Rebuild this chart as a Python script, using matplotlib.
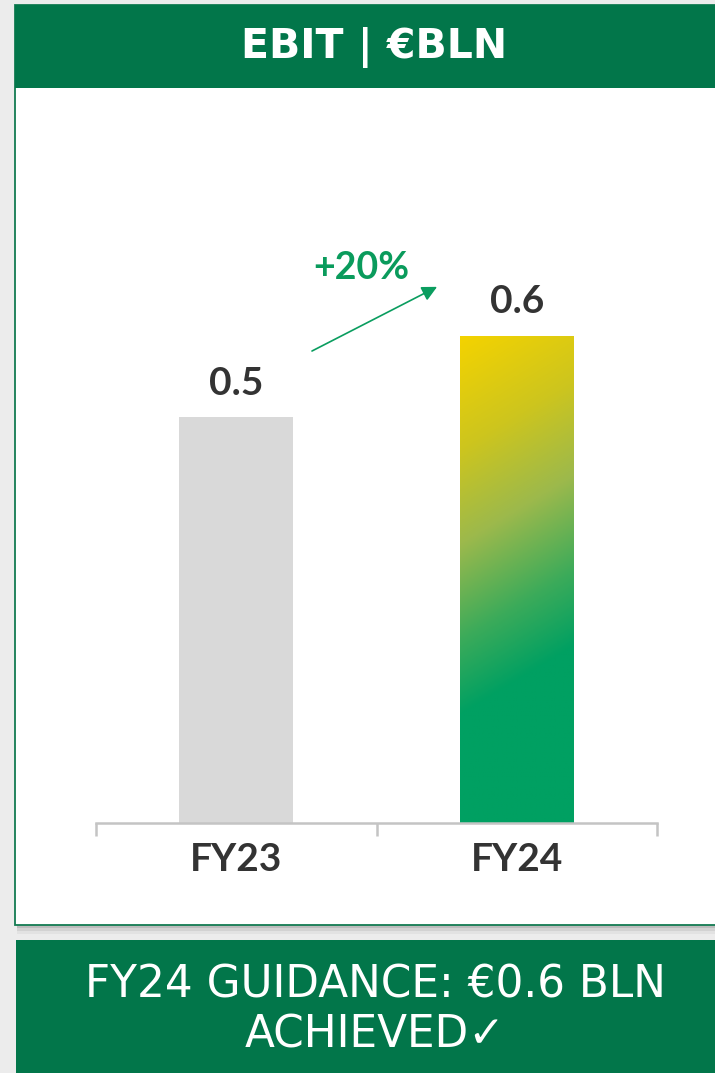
import numpy as np
import matplotlib
matplotlib.use("Agg")
from matplotlib import pyplot as plt
from matplotlib.patches import Rectangle
from matplotlib.colors import LinearSegmentedColormap

# EBIT, bln EUR
years = ["FY23", "FY24"]
ebit = [0.5, 0.6]
title = "EBIT | €BLN"
footer = ["FY24 GUIDANCE: €0.6 BLN", "ACHIEVED✓"]

W, H = 715, 1073
DARK_GREEN = "#02764a"
TEXT = "#333333"
NUM_FONT = ["Lato", "DejaVu Sans"]
CAPS_FONT = ["DejaVu Sans"]

plt.rcParams["font.family"] = NUM_FONT


def fx(px):
    return px / W


def fy(py):
    return 1 - py / H


fig = plt.figure(figsize=(W / 100, H / 100), dpi=100, facecolor="#ececec")

# card shadow + card + header band (kept behind the axes)
for i, a in enumerate([0.10, 0.07, 0.04]):
    fig.add_artist(Rectangle((fx(17), fy(928 + 3 * i)), 1, fy(10) - fy(928 + 3 * i),
                             transform=fig.transFigure, fc="black", ec="none",
                             alpha=a, zorder=-5))
fig.add_artist(Rectangle((fx(15), fy(925)), 1, fy(5) - fy(925),
                         transform=fig.transFigure, fc="white", ec="#137b52",
                         lw=1.3, zorder=-4))
fig.add_artist(Rectangle((fx(15), fy(88)), 1, fy(5) - fy(88),
                         transform=fig.transFigure, fc=DARK_GREEN, ec="none", zorder=-3))
fig.text(fx(374), fy(48), title, ha="center", va="center", color="white",
         fontsize=29.5, fontweight="bold", family=CAPS_FONT)

# footer box
fig.add_artist(Rectangle((fx(16), 0), 1, fy(940),
                         transform=fig.transFigure, fc=DARK_GREEN, ec="none", zorder=-3))
fig.text(fx(375), fy(985), footer[0], ha="center", va="center", color="white",
         fontsize=31.5, fontweight="medium", family=CAPS_FONT)
fig.text(fx(375), fy(1035), footer[1], ha="center", va="center", color="white",
         fontsize=31.5, fontweight="medium", family=CAPS_FONT)

# bar chart
ax = fig.add_axes([fx(96), fy(823), fx(657) - fx(96), fy(100) - fy(823)])
ax.set_zorder(5)
ax.patch.set_visible(False)
x = np.arange(len(years))
bw = 0.406
bars = ax.bar(x, ebit, width=bw, color=["#d9d9d9", "none"], zorder=2)
ax.set_xlim(-0.5, len(years) - 0.5)
ax.set_ylim(0, 0.89)

for s in ["top", "right", "left"]:
    ax.spines[s].set_visible(False)
ax.spines["bottom"].set_color("#c4c4c4")
ax.spines["bottom"].set_linewidth(1.8)
ax.set_yticks([])
ax.set_xticks(x, years, fontsize=28, fontweight="bold", color=TEXT)
ax.tick_params(axis="x", which="major", length=0, pad=14)
ax.set_xticks(np.arange(len(years) + 1) - 0.5, minor=True)
ax.tick_params(axis="x", which="minor", length=9, width=1.8, color="#c4c4c4")

# yellow -> green diagonal fill for the latest year
cmap = LinearSegmentedColormap.from_list(
    "ebit", [(0, "#f4d300"), (0.3, "#cdc51e"), (0.55, "#9cb94c"),
             (0.8, "#3cab5a"), (1, "#00a062")])
b = bars[1]
fig.canvas.draw()
bb = b.get_window_extent()
wp, hp = bb.width, bb.height
gx, gy = np.meshgrid(np.linspace(0, wp, 120), np.linspace(0, hp, 400))
t = np.clip((0.6 * gx + gy) / 380, 0, 1)
im = ax.imshow(t, cmap=cmap, vmin=0, vmax=1, aspect="auto", origin="upper",
               extent=[b.get_x(), b.get_x() + bw, 0, ebit[1]], zorder=2,
               interpolation="bilinear")
im.set_clip_path(b)
ax.set_xlim(-0.5, len(years) - 0.5)
ax.set_ylim(0, 0.89)

for xi, v in zip(x, ebit):
    ax.annotate(f"{v:.1f}", (xi, v), xytext=(0, 16), textcoords="offset points",
                ha="center", va="baseline", fontsize=28, fontweight="bold", color=TEXT)

# growth arrow
growth = ebit[1] / ebit[0] - 1
ax.annotate("", xy=(0.716, 0.660), xytext=(0.270, 0.581),
            arrowprops=dict(arrowstyle="-|>,head_length=0.9,head_width=0.45",
                            color="#0a9d5f", lw=1.2, shrinkA=0, shrinkB=0))
ax.text(0.445, 0.683, f"+{growth:.0%}", ha="center", va="center",
        fontsize=27, fontweight="bold", color="#0a9b5c")

fig.savefig("out.png", dpi=100, facecolor=fig.get_facecolor())
